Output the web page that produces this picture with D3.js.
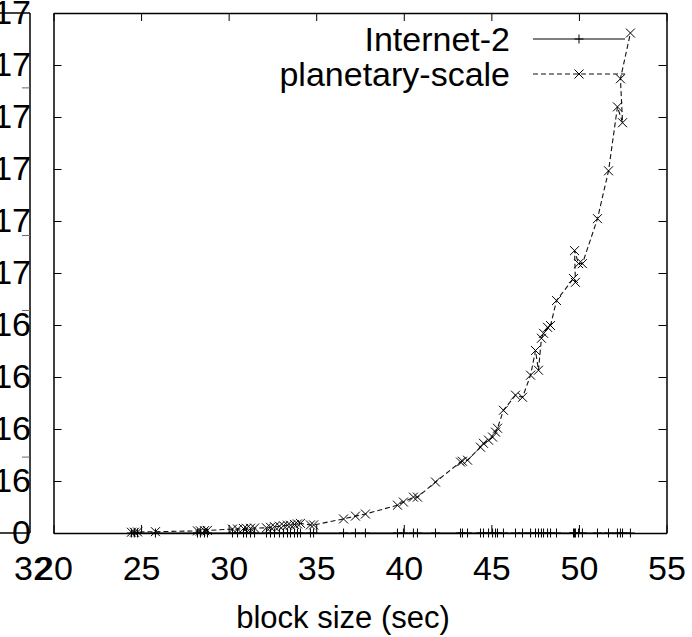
<!DOCTYPE html>
<html>
<head>
<meta charset="utf-8">
<script src="https://cdn.jsdelivr.net/npm/d3@7"></script>
<style>
  html, body { margin: 0; padding: 0; background: #fff; }
  svg { display: block; font-family: "Liberation Sans", Arial, sans-serif; }
</style>
</head>
<body>
<svg id="chart" width="692" height="637"></svg>
<script>
// ---- data (block size in seconds) ----
const blockSizes = [
  24.45, 24.62, 24.80, 25.82, 28.22, 28.39, 28.62, 28.79, 30.22, 30.51,
  30.85, 31.02, 31.25, 31.48, 32.16, 32.39, 32.62, 32.90, 33.13, 33.36,
  33.53, 33.76, 33.93, 34.10, 34.67, 34.85, 36.56, 37.24, 37.81, 39.64,
  39.98, 40.55, 40.78, 41.81, 43.24, 43.35, 43.64, 44.38, 44.55, 44.84,
  45.07, 45.24, 45.35, 45.69, 46.38, 46.78, 47.24, 47.52, 47.69, 47.86,
  47.98, 48.21, 48.38, 48.72, 49.69, 49.80, 49.75, 49.98, 50.20, 51.06,
  51.69, 52.20, 52.49, 52.37, 52.94
];
// planetary-scale values, in units of 1e16
const planetaryScale = [
  0.03, 0.03, 0.04, 0.05, 0.08, 0.08, 0.09, 0.10, 0.15, 0.15,
  0.17, 0.18, 0.18, 0.19, 0.20, 0.22, 0.24, 0.26, 0.28, 0.30,
  0.30, 0.33, 0.35, 0.37, 0.31, 0.31, 0.54, 0.65, 0.73, 1.07,
  1.19, 1.38, 1.38, 1.96, 2.73, 2.76, 2.80, 3.30, 3.45, 3.57,
  3.69, 3.88, 4.03, 4.72, 5.30, 5.22, 6.07, 7.02, 6.26, 7.49,
  7.68, 7.91, 7.98, 8.94, 9.79, 9.64, 10.86, 10.36, 10.36, 12.09,
  13.93, 16.39, 15.78, 17.47, 19.23
];
// Internet-2 values, in units of 1e16 (negligible at this scale)
const internet2 = [
  0, 0, 0, 0, 0, 0, 0, 0, 0, 0,
  0, 0, 0, 0, 0, 0, 0, 0, 0, 0,
  0, 0, 0, 0, 0, 0, 0, 0, 0, 0,
  0, 0, 0, 0, 0, 0, 0, 0, 0, 0,
  0, 0, 0, 0, 0, 0, 0, 0, 0, 0,
  0, 0, 0, 0, 0, 0, 0, 0, 0, 0,
  0, 0, 0, 0, 0
];
const seriesNames = ["Internet-2", "planetary-scale"];
const xTicks = [20, 25, 30, 35, 40, 45, 50, 55];
const xTickLabels = ["20", "25", "30", "35", "40", "45", "50", "55"];
const yTicks = [0, 2, 4, 6, 8, 10, 12, 14, 16, 18, 20];          // units of 1e16
const yTickLabels = ["0", "16", "16", "16", "16", "17", "17", "17", "17", "17", "17"];
const leftPlotXLabel = "32";
const leftAxisMarks = [17.12, 11.44, 8.56, 2.92];                  // units of 1e16
const xTitle = "block size (sec)";

// ---- layout ----
const svg = d3.select("#chart");
const W = 692, H = 637;
const plot = { left: 53.5, right: 666.5, top: 13, bottom: 533 };
const leftAxisX = 30;
const FS = 34;       // tick labels / legend
const FT = 31;       // axis title
const FAM = "Liberation Sans, Arial, sans-serif";

const x = d3.scaleLinear().domain([20, 55]).range([plot.left, plot.right]);
const y = d3.scaleLinear().domain([0, 20]).range([plot.bottom, plot.top]);

svg.append("rect").attr("width", W).attr("height", H).attr("fill", "#fff");

// ---- leftover left plot axis (clipped off the page) ----
const leftAxis = d3.axisLeft(y).tickValues(yTicks)
  .tickFormat((d, i) => yTickLabels[i]).tickSize(0).tickPadding(-1);
const gl = svg.append("g").attr("transform", `translate(${leftAxisX},0)`).call(leftAxis);
gl.select(".domain").remove();
gl.selectAll("text").attr("font-size", FS).attr("fill", "#000").attr("font-family", FAM);
svg.append("line").attr("x1", leftAxisX).attr("x2", leftAxisX)
  .attr("y1", plot.top).attr("y2", plot.bottom).attr("stroke", "#000").attr("stroke-width", 1.5);
svg.append("line").attr("x1", 0).attr("x2", leftAxisX)
  .attr("y1", plot.top).attr("y2", plot.top).attr("stroke", "#000").attr("stroke-width", 1.5);
svg.append("line").attr("x1", 0).attr("x2", leftAxisX)
  .attr("y1", plot.bottom).attr("y2", plot.bottom).attr("stroke", "#000").attr("stroke-width", 1.5);
svg.selectAll(".lmark").data(leftAxisMarks).enter().append("line")
  .attr("x1", leftAxisX - 8).attr("x2", leftAxisX)
  .attr("y1", d => y(d)).attr("y2", d => y(d))
  .attr("stroke", "#666").attr("stroke-width", 1);

// ---- main frame axes (gnuplot-style inward ticks, mirrored) ----
const tickLen = 8;
const tickPad = 23;
const axB = d3.axisBottom(x).tickValues(xTicks).tickFormat((d, i) => xTickLabels[i])
  .tickSizeInner(-tickLen).tickSizeOuter(0).tickPadding(tickPad);
const gb = svg.append("g").attr("transform", `translate(0,${plot.bottom})`).call(axB);
gb.selectAll("text").attr("font-size", FS).attr("fill", "#000").attr("font-family", FAM);

// the left plot's x tick label, aligned with the x tick labels
svg.append("text").attr("x", 33).attr("y", plot.bottom + tickPad).attr("dy", "0.71em")
  .attr("text-anchor", "middle").attr("font-size", FS).attr("font-family", FAM)
  .attr("fill", "#000").text(leftPlotXLabel);

const axT = d3.axisTop(x).tickValues(xTicks).tickFormat("").tickSizeInner(-tickLen).tickSizeOuter(0);
svg.append("g").attr("transform", `translate(0,${plot.top})`).call(axT);
const axL = d3.axisLeft(y).tickValues(yTicks).tickFormat("").tickSizeInner(-tickLen).tickSizeOuter(0);
svg.append("g").attr("transform", `translate(${plot.left},0)`).call(axL);
const axR = d3.axisRight(y).tickValues(yTicks).tickFormat("").tickSizeInner(-tickLen).tickSizeOuter(0);
svg.append("g").attr("transform", `translate(${plot.right},0)`).call(axR);
svg.selectAll(".domain").attr("stroke", "#000").attr("stroke-width", 1.5);
svg.selectAll(".tick line").attr("stroke", "#000").attr("stroke-width", 1);

// ---- series ----
const ptsI = blockSizes.map((b, i) => [b, internet2[i]]);
const ptsP = blockSizes.map((b, i) => [b, planetaryScale[i]]);
const line = d3.line().x(d => x(d[0])).y(d => y(d[1]));

svg.append("path").datum(ptsI).attr("d", line)
  .attr("fill", "none").attr("stroke", "#000").attr("stroke-width", 1);
svg.append("path").datum(ptsP).attr("d", line)
  .attr("fill", "none").attr("stroke", "#111").attr("stroke-width", 1.1)
  .attr("stroke-dasharray", "5,3");

const ps = 4.5;
function plus(g, cx, cy) {
  g.append("line").attr("x1", cx - ps).attr("x2", cx + ps).attr("y1", cy).attr("y2", cy);
  g.append("line").attr("x1", cx).attr("x2", cx).attr("y1", cy - ps).attr("y2", cy + ps);
}
function cross(g, cx, cy) {
  g.append("line").attr("x1", cx - ps).attr("x2", cx + ps).attr("y1", cy - ps).attr("y2", cy + ps);
  g.append("line").attr("x1", cx - ps).attr("x2", cx + ps).attr("y1", cy + ps).attr("y2", cy - ps);
}
const gI = svg.append("g").attr("stroke", "#000").attr("stroke-width", 1);
ptsI.forEach(d => plus(gI, x(d[0]), y(d[1])));
const gP = svg.append("g").attr("stroke", "#000").attr("stroke-width", 1);
ptsP.forEach(d => cross(gP, x(d[0]), y(d[1])));

// ---- legend ----
const legX1 = 533, legX2 = 625, legTextX = 510;
const legY = [39, 74];
svg.append("line").attr("x1", legX1).attr("x2", legX2).attr("y1", legY[0]).attr("y2", legY[0])
  .attr("stroke", "#000").attr("stroke-width", 1);
svg.append("line").attr("x1", legX1).attr("x2", legX2).attr("y1", legY[1]).attr("y2", legY[1])
  .attr("stroke", "#111").attr("stroke-width", 1.1).attr("stroke-dasharray", "5,3");
const gLeg = svg.append("g").attr("stroke", "#000").attr("stroke-width", 1);
plus(gLeg, (legX1 + legX2) / 2, legY[0]);
cross(gLeg, (legX1 + legX2) / 2, legY[1]);
seriesNames.forEach((n, i) => {
  svg.append("text").attr("x", legTextX).attr("y", legY[i]).attr("dy", "0.35em")
    .attr("text-anchor", "end").attr("font-size", FS).attr("font-family", FAM)
    .attr("fill", "#000").text(n);
});

// ---- axis title ----
svg.append("text").attr("x", 343).attr("y", 628)
  .attr("text-anchor", "middle").attr("font-size", FT).attr("font-family", FAM)
  .attr("fill", "#000").text(xTitle);
</script>
</body>
</html>
